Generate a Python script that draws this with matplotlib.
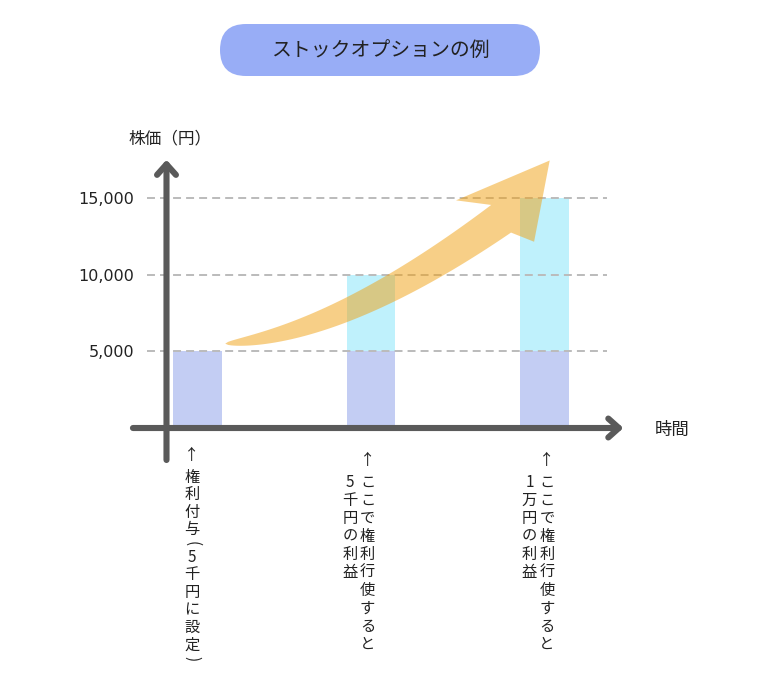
import numpy as np
import matplotlib
matplotlib.use('Agg')
import matplotlib.pyplot as plt
import matplotlib.transforms as mtransforms
from matplotlib.patches import Polygon, FancyBboxPatch

plt.rcParams['font.family'] = ['Noto Sans CJK JP', 'DejaVu Sans']

# ---- データ ----
positions = [0, 1, 2]
strike = [5000, 5000, 5000]        # 権利行使価格（5千円）
profit = [0, 5000, 10000]          # 利益部分
ytick_values = [5000, 10000, 15000]
ytick_labels = ['5,000', '10,000', '15,000']
title = 'ストックオプションの例'
ylabel = '株価（円）'
xlabel = '時間'
# 縦書きの注記（右の列から順に）
notes = [
    ['↑権利付与(5千円に設定)'],
    ['↑ここで権利行使すると', '　5千円の利益'],
    ['↑ここで権利行使すると', '　1万円の利益'],
]

# ---- スタイル ----
c_base = '#c3cdf3'
c_gain = '#bff1fc'
c_axis = '#5a5a5a'
c_grid = '#bbbbbb'
c_arrow = '#f0a010'
c_title = '#98adf6'
c_text = '#222222'

fig = plt.figure(figsize=(7.6, 6.89), dpi=100)
ax = fig.add_axes([140 / 760, 229 / 689, 488 / 760, 302 / 689])
ax.set_xlim(-0.3314, 2.4813)
ax.set_ylim(-2087, 17613)
for s in ax.spines.values():
    s.set_visible(False)
ax.set_xticks([])
ax.set_yticks(ytick_values, ytick_labels)
ax.tick_params(axis='y', length=0, pad=4.3, labelsize=11.5, labelcolor=c_text)
for lab in ax.get_yticklabels():
    lab.set_family('DejaVu Sans')

# 棒
ax.bar(positions, strike, width=0.282, color=c_base, zorder=1)
ax.bar(positions, profit, bottom=strike, width=0.282, color=c_gain, zorder=1)

# 補助線（破線）
ax.hlines(ytick_values, -0.291, 2.36, colors=c_grid, linestyles=(0, (4.1, 2.6)),
          lw=1.4, zorder=2)

# 軸の矢印
arrow_kw = dict(arrowstyle='->,head_length=0.38,head_width=0.34', lw=4.4,
                color=c_axis, shrinkA=0, shrinkB=0, mutation_scale=20)
ax.annotate('', xy=(-0.1787, 17500), xytext=(-0.1787, -2087),
            arrowprops=arrow_kw, annotation_clip=False)
ax.annotate('', xy=(2.455, 0), xytext=(-0.372, 0),
            arrowprops=arrow_kw, annotation_clip=False)

# 軸ラベル
ax.text(-0.158, 18850, ylabel, ha='center', va='center', fontsize=12,
        color=c_text)
ax.text(2.735, -130, xlabel, ha='center', va='center', fontsize=12.5,
        color=c_text)

# 上昇を示すオレンジの矢印（表示座標で形を作る）
tail = np.array([0.16, 5500])
ctrl = np.array([0.82, 6100])
neck = np.array([1.75, 13650])
tip = np.array([2.03, 17450])
barb_l = np.array([1.49, 14850])
barb_r = np.array([1.94, 12150])

T = ax.transData
p0, p1, p2 = T.transform([tail, ctrl, neck])
t = np.linspace(0, 1, 80)[:, None]
center = (1 - t) ** 2 * p0 + 2 * (1 - t) * t * p1 + t ** 2 * p2
deriv = 2 * (1 - t) * (p1 - p0) + 2 * t * (p2 - p1)
deriv /= np.linalg.norm(deriv, axis=1, keepdims=True)
normal = np.column_stack([-deriv[:, 1], deriv[:, 0]])
width = 34 * t ** 0.55
upper = center + normal * width / 2
lower = center - normal * width / 2
head = T.transform([barb_r, tip, barb_l])
outline = np.vstack([lower, head, upper[::-1]])
ax.add_patch(Polygon(T.inverted().transform(outline), closed=True,
                     facecolor=c_arrow, edgecolor='none', alpha=0.5,
                     zorder=3, clip_on=False))

# 縦書きの注記（括弧は90度回転）
def vertical_text(x, top_px, text, dx_px, pitch=18.0, size=11):
    y = top_px
    prev = None
    for i, ch in enumerate(text):
        h = 0.55 if ch in '()' else 1.0
        if i == 1:
            y += 22
        elif prev is not None:
            y += pitch * (prev + h) / 2
        ax.annotate(ch, xy=(x, 0), xycoords='data',
                    xytext=(dx_px * 0.72, -y * 0.72), textcoords='offset points',
                    ha='center', va='center', fontsize=size, color=c_text,
                    rotation=-90 if ch in '()' else 0,
                    rotation_mode='anchor', annotation_clip=False)
        prev = h

note_top = [27, 32, 32]
note_dx = [-5.5, -3.5, 2.5]
note_pitch = [17.6, 18.0, 18.0]
for pos, cols, top, dx, pitch in zip(positions, notes, note_top, note_dx, note_pitch):
    for k, col in enumerate(cols):
        vertical_text(pos, top, col, dx - 17.5 * k, pitch=pitch)

# タイトル（角丸の帯）
px = mtransforms.Affine2D().scale(1 / 760, -1 / 689).translate(0, 1) + fig.transFigure
fig.patches.append(FancyBboxPatch((220, 24), 320, 52,
                                  boxstyle='round,pad=0,rounding_size=26',
                                  facecolor=c_title, edgecolor='none',
                                  transform=px, figure=fig))
fig.text(380, 50, title, transform=px, ha='center', va='center',
         fontsize=14.3, color=c_text)

fig.savefig('out.png', dpi=100)
